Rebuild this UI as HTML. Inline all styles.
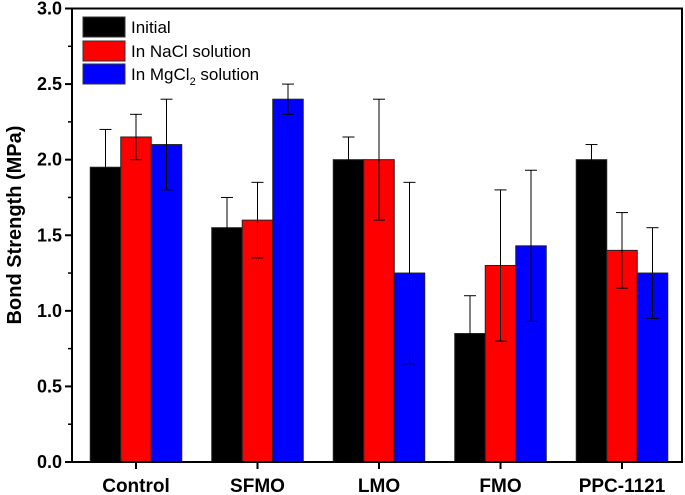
<!DOCTYPE html>
<html><head><meta charset="utf-8"><style>
html,body{margin:0;padding:0;background:#fff;}
svg{display:block;font-family:"Liberation Sans",Arial,sans-serif;}
</style></head><body>
<svg id="chart" width="685" height="495" xmlns="http://www.w3.org/2000/svg">
<g id="marks"></g>
<g id="axes"></g>
<g id="legend">
  <rect x="83" y="17" width="42" height="20" fill="#000" stroke="#333"/>
  <text x="131" y="33" font-size="17">Initial</text>
  <rect x="83" y="41" width="42" height="20" fill="#f00" stroke="#333"/>
  <text x="131" y="57" font-size="17">In NaCl solution</text>
  <rect x="83" y="64" width="42" height="20" fill="#00f" stroke="#333"/>
  <text x="131" y="80" font-size="17">In MgCl<tspan font-size="11" dy="5">2</tspan><tspan dy="-5"> solution</tspan></text>
</g>
<text transform="translate(21,225) rotate(-90)" text-anchor="middle" font-size="20" font-weight="bold">Bond Strength (MPa)</text>
</svg>
<script>
const categories = ["Control","SFMO","LMO","FMO","PPC-1121"];
const initialVals = [1.95,1.55,2.0,0.85,2.0];
const initialErr = [0.25,0.2,0.15,0.25,0.1];
const naclVals = [2.15,1.6,2.0,1.3,1.4];
const naclErr = [0.15,0.25,0.4,0.5,0.25];
const mgVals = [2.1,2.4,1.25,1.43,1.25];
const mgErr = [0.3,0.1,0.6,0.5,0.3];
const yTicks = ["0.0","0.5","1.0","1.5","2.0","2.5","3.0"];

const NS="http://www.w3.org/2000/svg";
const L=72,R=682,T=8.5,B=462;
const yS=v=>B-(v/3)*(B-T);
const xS=i=>136+121.5*i;
const bw=30.5;
function mk(tag,attrs,parent){const e=document.createElementNS(NS,tag);for(const k in attrs)e.setAttribute(k,attrs[k]);parent.appendChild(e);return e;}
const marks=document.getElementById('marks'),axes=document.getElementById('axes');
const series=[[initialVals,initialErr,"#000","initial"],[naclVals,naclErr,"#f00","nacl"],[mgVals,mgErr,"#00f","mgcl2"]];
series.forEach((s,si)=>{
  categories.forEach((c,i)=>{
    const x=xS(i)+(si-1.5)*bw;
    const r=mk('rect',{x:x,y:yS(s[0][i]),width:bw,height:B-yS(s[0][i]),fill:s[2],stroke:"#222","stroke-width":1},marks);
    
    
    const cx=x+bw/2,y1=yS(s[0][i]+s[1][i]),y2=yS(s[0][i]-s[1][i]);
    const g=mk('g',{stroke:"#000","stroke-width":1},marks);
    
    
    mk('line',{x1:cx,x2:cx,y1:y1,y2:y2},g);
    mk('line',{x1:cx-6,x2:cx+6,y1:y1,y2:y1},g);
    mk('line',{x1:cx-6,x2:cx+6,y1:y2,y2:y2},g);
  });
});
const frame=mk('rect',{x:L,y:T,width:R-L,height:B-T,fill:"none",stroke:"#000","stroke-width":2},axes);


yTicks.forEach((t,i)=>{
  const v=parseFloat(t),y=yS(v);
  mk('line',{x1:L-7,x2:L,y1:y,y2:y,stroke:"#000","stroke-width":2},axes);
  if(i<yTicks.length-1) mk('line',{x1:L-4,x2:L,y1:yS(v+0.25),y2:yS(v+0.25),stroke:"#000","stroke-width":1.5},axes);
  const tx=mk('text',{x:L-10,y:y+6,"text-anchor":"end","font-size":18,"font-weight":"bold"},axes);
  tx.textContent=t;
  
  
});
categories.forEach((c,i)=>{
  mk('line',{x1:xS(i),x2:xS(i),y1:B,y2:B+7,stroke:"#000","stroke-width":2},axes);
  const tx=mk('text',{x:xS(i),y:B+30,"text-anchor":"middle","font-size":19,"font-weight":"bold"},axes);
  tx.textContent=c;
  
  
});
</script>
</body></html>
